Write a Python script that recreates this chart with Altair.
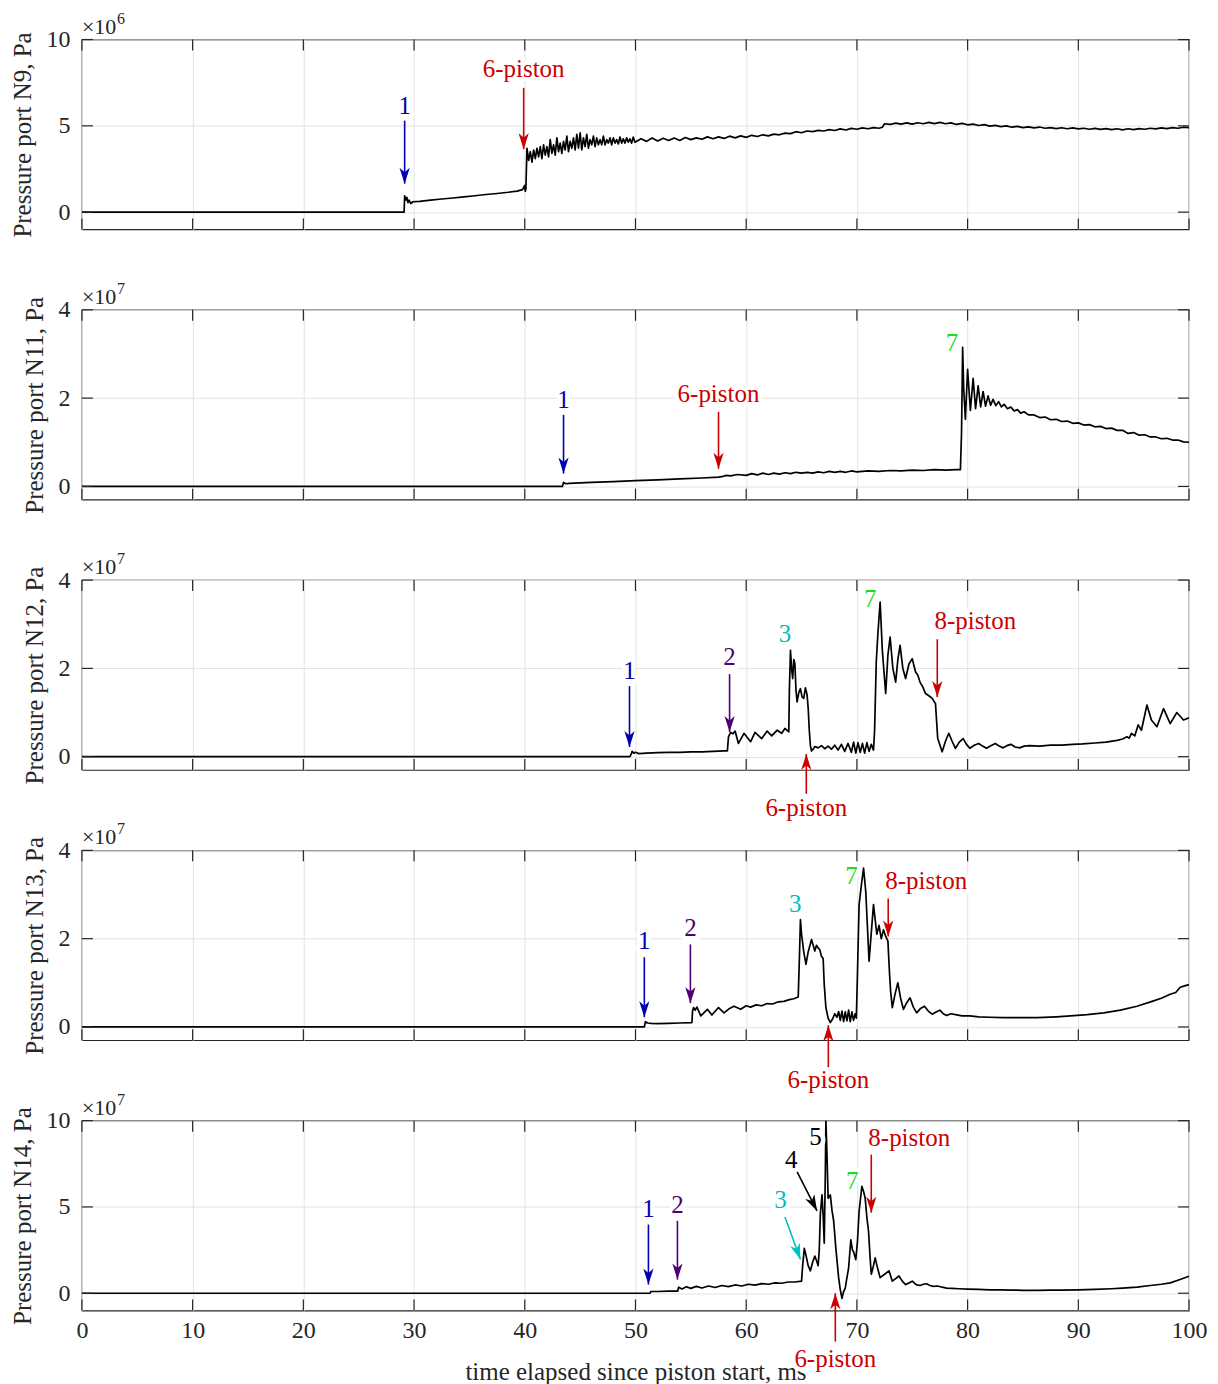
import math
import altair as alt
import pandas as pd

FONT = "Liberation Serif"
FRAME = "#262626"
W, H = 1108, 190
TICK = 11
X_DOMAIN = [0, 100]
X_TICKS = [0, 10, 20, 30, 40, 50, 60, 70, 80, 90, 100]

BLUE = "#0000b3"
RED = "#cc0000"
PURPLE = "#4c0073"
CYAN = "#00bfbf"
GREEN = "#1fdc1f"
BLACK = "#000000"

# ---------------------------------------------------------------- pressure traces
# (time in ms, pressure in units of the panel exponent)
n9 = [(0, 0), (29.1, 0), (29.15, 0.95), (29.25, 0.7), (29.35, 0.85), (29.45, 0.55), (29.55, 0.7),
      (29.7, 0.5), (29.9, 0.6), (30.5, 0.62), (31.5, 0.7), (32.5, 0.76), (33.5, 0.82), (34.5, 0.88),
      (35.5, 0.95), (36.5, 1.02), (37.5, 1.08), (38.5, 1.15), (39.3, 1.22), (39.8, 1.3), (40.0, 1.55),
      (40.05, 1.2), (40.1, 1.35),
      (40.20, 3.7), (40.35, 3.0), (40.50, 3.5), (40.65, 2.9), (40.80, 3.6), (40.95, 3.1), (41.10, 3.7),
      (41.25, 3.2), (41.40, 3.8), (41.55, 3.1), (41.70, 3.9), (41.85, 3.3), (42.00, 3.8), (42.15, 3.2),
      (42.30, 4.2), (42.45, 3.4), (42.60, 3.9), (42.75, 3.3), (42.90, 4.3), (43.05, 3.5), (43.20, 4.0),
      (43.35, 3.4), (43.50, 4.1), (43.65, 3.6), (43.80, 4.4), (43.95, 3.5), (44.10, 4.1), (44.25, 3.7),
      (44.40, 4.3), (44.55, 3.6), (44.70, 4.5), (44.85, 3.7), (45.00, 4.6), (45.15, 3.6), (45.30, 4.3),
      (45.45, 3.8), (45.60, 4.5), (45.75, 3.7), (45.90, 4.2), (46.05, 3.9), (46.20, 4.4), (46.35, 3.8),
      (46.50, 4.3), (46.65, 3.9), (46.80, 4.2), (46.95, 3.9), (47.10, 4.4), (47.25, 3.9), (47.40, 4.2),
      (47.55, 4.0), (47.70, 4.3), (47.85, 3.9), (48.00, 4.3), (48.15, 4.0), (48.30, 4.2), (48.45, 3.95),
      (48.60, 4.35), (48.75, 4.0), (48.90, 4.25), (49.05, 4.0), (49.20, 4.3), (49.35, 4.05),
      (49.50, 4.25), (49.65, 4.0), (49.80, 4.35), (49.95, 4.05),
      (50.5, 4.25), (51, 4.1), (51.5, 4.3), (52, 4.12), (52.5, 4.28), (53, 4.15), (53.5, 4.3),
      (54, 4.15), (54.5, 4.32), (55, 4.2), (55.5, 4.3), (56, 4.22), (56.5, 4.36), (57, 4.25),
      (57.5, 4.36), (58, 4.27), (58.5, 4.4), (59, 4.3), (59.5, 4.42), (60, 4.33), (60.5, 4.45),
      (61, 4.38), (61.5, 4.48), (62, 4.42), (62.5, 4.52), (63, 4.48), (63.5, 4.58), (64, 4.55),
      (64.5, 4.66), (65, 4.6), (65.5, 4.7), (66, 4.66), (66.5, 4.74), (67, 4.7), (67.5, 4.78),
      (68, 4.73), (68.5, 4.82), (69, 4.76), (69.5, 4.85), (70, 4.8), (70.5, 4.88), (71, 4.83),
      (71.5, 4.9), (72, 4.86), (72.3, 4.92), (72.5, 5.12), (73, 5.08), (73.5, 5.16), (74, 5.1),
      (74.5, 5.17), (75, 5.1), (75.5, 5.18), (76, 5.12), (76.5, 5.2), (77, 5.13), (77.5, 5.2),
      (78, 5.12), (78.5, 5.17), (79, 5.08), (79.5, 5.14), (80, 5.06), (80.5, 5.1), (81, 5.02),
      (81.5, 5.07), (82, 4.98), (82.5, 5.03), (83, 4.95), (83.5, 5.0), (84, 4.92), (84.5, 4.97),
      (85, 4.9), (85.5, 4.94), (86, 4.88), (86.5, 4.93), (87, 4.86), (87.5, 4.9), (88, 4.84),
      (88.5, 4.89), (89, 4.83), (89.5, 4.88), (90, 4.82), (90.5, 4.86), (91, 4.8), (91.5, 4.85),
      (92, 4.79), (92.5, 4.84), (93, 4.78), (93.5, 4.83), (94, 4.77), (94.5, 4.83), (95, 4.78),
      (95.5, 4.84), (96, 4.8), (96.5, 4.86), (97, 4.82), (97.5, 4.88), (98, 4.84), (98.5, 4.9),
      (99, 4.86), (99.5, 4.92), (100, 4.9)]

n11 = [(0, 0), (43.4, 0), (43.5, 0.09), (43.7, 0.06), (44, 0.07), (46, 0.09), (48, 0.11), (50, 0.13),
       (52, 0.15), (54, 0.17), (56, 0.19), (57.5, 0.21), (57.8, 0.22), (58.2, 0.25), (58.6, 0.24),
       (59.2, 0.27), (60, 0.25), (60.5, 0.29), (61, 0.26), (61.5, 0.3), (62, 0.27), (62.5, 0.3),
       (63, 0.28), (63.5, 0.31), (64, 0.29), (64.5, 0.32), (65, 0.3), (65.5, 0.32), (66, 0.3),
       (66.5, 0.33), (67, 0.31), (67.5, 0.34), (68, 0.32), (68.5, 0.34), (69, 0.32), (69.5, 0.35),
       (70, 0.33), (71, 0.35), (72, 0.34), (73, 0.36), (74, 0.35), (75, 0.37), (76, 0.36), (77, 0.38),
       (78, 0.37), (79, 0.38), (79.35, 0.38), (79.45, 1.2), (79.55, 3.15), (79.65, 2.2), (79.8, 1.52),
       (80.0, 2.65), (80.25, 1.72), (80.5, 2.45), (80.72, 1.76), (80.95, 2.28), (81.18, 1.8),
       (81.4, 2.15), (81.62, 1.82), (81.85, 2.05), (82.08, 1.84), (82.3, 1.97), (82.55, 1.83),
       (82.8, 1.92), (83.05, 1.8), (83.3, 1.86), (83.6, 1.76), (83.9, 1.8), (84.2, 1.71), (84.5, 1.74),
       (84.8, 1.66), (85.1, 1.69), (85.5, 1.62), (86, 1.62), (86.5, 1.56), (87, 1.57), (87.5, 1.51),
       (88, 1.52), (88.5, 1.47), (89, 1.48), (89.5, 1.43), (90, 1.44), (90.5, 1.39), (91, 1.4),
       (91.5, 1.35), (92, 1.36), (92.5, 1.31), (93, 1.32), (93.5, 1.27), (94, 1.27), (94.5, 1.2),
       (95, 1.22), (95.5, 1.16), (96, 1.17), (96.5, 1.12), (97, 1.12), (97.5, 1.08), (98, 1.09),
       (98.5, 1.05), (99, 1.05), (99.5, 1.01), (100, 1.0)]

n12 = [(0, 0), (49.5, 0), (49.6, 0.05), (49.7, 0.12), (49.85, 0.08), (50, 0.1), (50.3, 0.07), (51, 0.08),
       (52, 0.09), (53, 0.1), (54, 0.1), (55, 0.11), (56, 0.11), (57, 0.12), (58, 0.13), (58.3, 0.13),
       (58.4, 0.45), (58.6, 0.55), (58.8, 0.52), (59.0, 0.58), (59.3, 0.3), (59.8, 0.53), (60.4, 0.34),
       (60.8, 0.55), (61.4, 0.41), (61.9, 0.58), (62.3, 0.47), (62.8, 0.6), (63.2, 0.53), (63.5, 0.64),
       (63.85, 0.56), (63.9, 1.5), (64.0, 2.41), (64.1, 2.0), (64.2, 1.77), (64.3, 2.2), (64.4, 2.1),
       (64.5, 1.5), (64.6, 1.24), (64.75, 1.45), (64.9, 1.54), (65.05, 1.35), (65.2, 1.32),
       (65.35, 1.56), (65.5, 1.4), (65.6, 1.1), (65.7, 0.6), (65.8, 0.25), (65.9, 0.13), (66.05, 0.17),
       (66.2, 0.23), (66.5, 0.2), (66.8, 0.25), (67.1, 0.18), (67.4, 0.24), (67.7, 0.17), (68.0, 0.26),
       (68.3, 0.15), (68.6, 0.28), (68.9, 0.12), (69.2, 0.3), (69.5, 0.1), (69.7, 0.33), (69.9, 0.08),
       (70.1, 0.32), (70.3, 0.1), (70.5, 0.3), (70.7, 0.08), (70.9, 0.32), (71.1, 0.12), (71.3, 0.28),
       (71.5, 0.15), (71.6, 0.6), (71.75, 2.15), (71.9, 2.8), (72.1, 3.5), (72.3, 2.4), (72.6, 1.43),
       (72.8, 2.3), (73.0, 2.71), (73.25, 2.0), (73.5, 1.69), (73.7, 2.2), (73.9, 2.52), (74.15, 2.0),
       (74.4, 1.77), (74.7, 2.1), (75.0, 2.22), (75.3, 1.92), (75.5, 1.85), (75.7, 1.69), (75.95, 1.58),
       (76.2, 1.43), (76.5, 1.38), (76.8, 1.32), (77.1, 1.2), (77.3, 0.41), (77.7, 0.11), (78.0, 0.35),
       (78.3, 0.53), (78.6, 0.35), (78.9, 0.19), (79.25, 0.33), (79.6, 0.41), (79.9, 0.28), (80.2, 0.19),
       (80.6, 0.26), (81.0, 0.3), (81.35, 0.24), (81.7, 0.19), (82.1, 0.25), (82.5, 0.3), (82.85, 0.24),
       (83.2, 0.2), (83.55, 0.25), (83.9, 0.28), (84.3, 0.22), (84.7, 0.2), (85.1, 0.24), (85.6, 0.25),
       (86.5, 0.24), (87.5, 0.26), (88.5, 0.26), (89.5, 0.28), (90.4, 0.29), (91.5, 0.31), (92.5, 0.33),
       (93.5, 0.37), (94.0, 0.4), (94.4, 0.45), (94.6, 0.42), (94.8, 0.53), (95.1, 0.47), (95.4, 0.72),
       (95.7, 0.6), (96.2, 1.17), (96.6, 0.83), (97.1, 0.68), (97.7, 1.09), (98.3, 0.75), (98.9, 1.0),
       (99.5, 0.83), (100, 0.88)]

n13 = [(0, 0), (50.8, 0), (50.9, 0.12), (51.1, 0.09), (51.4, 0.08), (52, 0.075), (53, 0.08), (54, 0.09),
       (55.1, 0.1), (55.15, 0.35), (55.25, 0.44), (55.4, 0.38), (55.55, 0.45), (55.9, 0.25), (56.5, 0.4),
       (56.9, 0.27), (57.5, 0.44), (58.0, 0.32), (58.5, 0.42), (58.9, 0.47), (59.5, 0.4), (60.0, 0.48),
       (60.4, 0.45), (60.9, 0.5), (61.4, 0.48), (61.9, 0.53), (62.4, 0.52), (62.9, 0.57), (63.4, 0.58),
       (63.9, 0.62), (64.3, 0.64), (64.7, 0.68), (64.8, 1.5), (64.9, 2.43), (65.0, 2.1), (65.2, 1.7),
       (65.4, 1.42), (65.6, 1.7), (65.9, 1.98), (66.05, 1.85), (66.2, 1.72), (66.35, 1.85), (66.5, 1.79),
       (66.65, 1.75), (66.8, 1.6), (66.95, 1.55), (67.05, 0.96), (67.2, 0.44), (67.4, 0.2), (67.6, 0.1),
       (67.8, 0.18), (68.0, 0.3), (68.2, 0.22), (68.35, 0.35), (68.5, 0.15), (68.65, 0.36), (68.8, 0.12),
       (68.95, 0.34), (69.1, 0.14), (69.25, 0.38), (69.4, 0.12), (69.55, 0.34), (69.7, 0.15), (69.85, 0.3),
       (69.95, 0.2), (70.05, 1.2), (70.2, 2.77), (70.4, 3.2), (70.6, 3.6), (70.8, 3.07), (71.1, 1.49),
       (71.5, 2.77), (71.8, 2.1), (72.0, 2.3), (72.2, 2.0), (72.4, 2.2), (72.6, 2.05), (72.8, 1.95),
       (72.95, 1.2), (73.05, 0.8), (73.2, 0.44), (73.45, 0.75), (73.7, 1.0), (73.95, 0.65), (74.2, 0.4),
       (74.5, 0.55), (74.8, 0.66), (75.1, 0.45), (75.4, 0.32), (75.75, 0.42), (76.1, 0.47), (76.45, 0.36),
       (76.8, 0.29), (77.15, 0.34), (77.5, 0.38), (77.8, 0.3), (78.1, 0.26), (78.5, 0.3), (78.9, 0.28),
       (79.5, 0.25), (80.2, 0.25), (81, 0.23), (82, 0.22), (83.2, 0.21), (84.5, 0.21), (86.3, 0.21),
       (88, 0.23), (89.3, 0.25), (90.8, 0.28), (92.3, 0.32), (93.8, 0.38), (95.3, 0.47), (96.8, 0.59),
       (97.5, 0.65), (98.3, 0.74), (98.8, 0.78), (99.2, 0.9), (99.6, 0.93), (100, 0.96)]

n14 = [(0, 0), (51.3, 0), (51.4, 0.1), (52, 0.1), (53, 0.12), (53.8, 0.12), (53.9, 0.35), (54.2, 0.25),
       (54.6, 0.38), (55.0, 0.28), (55.5, 0.4), (56.0, 0.3), (56.6, 0.42), (57.2, 0.33), (57.8, 0.45),
       (58.4, 0.38), (59.0, 0.48), (59.6, 0.42), (60.2, 0.52), (60.8, 0.47), (61.4, 0.56), (62.0, 0.52),
       (62.6, 0.6), (63.2, 0.58), (63.8, 0.65), (64.4, 0.65), (65.0, 0.7), (65.1, 1.6), (65.25, 2.6),
       (65.4, 2.2), (65.6, 1.6), (65.8, 1.3), (66.0, 1.8), (66.2, 2.15), (66.35, 1.9), (66.5, 1.6),
       (66.6, 2.5), (66.7, 4.6), (66.85, 5.7), (66.95, 4.5), (67.05, 2.9), (67.15, 7.0), (67.2, 10.0),
       (67.3, 8.0), (67.4, 5.5), (67.6, 5.7), (67.75, 4.8), (67.9, 4.2), (68.1, 2.6), (68.35, 0.9),
       (68.5, 0.2), (68.65, -0.3), (68.8, 0.1), (68.95, 0.3), (69.1, 0.9), (69.25, 1.45), (69.45, 3.1),
       (69.6, 2.5), (69.7, 2.4), (69.9, 1.95), (70.05, 3.0), (70.2, 4.75), (70.45, 6.2), (70.6, 5.9),
       (70.75, 5.5), (70.9, 4.4), (71.05, 3.6), (71.2, 2.0), (71.3, 1.1), (71.5, 1.6), (71.65, 2.05),
       (71.85, 1.5), (72.1, 0.9), (72.5, 1.1), (72.9, 1.3), (73.2, 0.7), (73.5, 0.85), (73.8, 1.0),
       (74.1, 0.7), (74.4, 0.5), (74.7, 0.6), (75.0, 0.7), (75.35, 0.5), (75.7, 0.45), (76.0, 0.52),
       (76.3, 0.55), (76.6, 0.45), (76.9, 0.4), (77.3, 0.42), (77.7, 0.35), (78.1, 0.3), (78.6, 0.28),
       (79.2, 0.26), (80, 0.24), (81, 0.22), (82, 0.2), (83, 0.19), (84, 0.18), (85, 0.17), (86.3, 0.17),
       (87.5, 0.18), (88.5, 0.18), (90, 0.2), (91.5, 0.22), (93, 0.26), (94, 0.3), (95.3, 0.35),
       (96.5, 0.45), (97.5, 0.52), (98.3, 0.6), (99, 0.75), (100, 0.98)]

# ---------------------------------------------------------------- event labels
# (label, colour, text x, text y, arrow start x, arrow start y, arrow tip x, arrow tip y)
n9_notes = [("1", BLUE, 29.15, 6.13, 29.15, 5.3, 29.15, 1.65),
            ("6-piston", RED, 39.9, 8.32, 39.9, 7.2, 39.9, 3.65)]
n11_notes = [("1", BLUE, 43.5, 1.96, 43.5, 1.62, 43.5, 0.29),
             ("6-piston", RED, 57.5, 2.1, 57.5, 1.69, 57.5, 0.4),
             ("7", GREEN, 78.6, 3.25, None, None, None, None)]
n12_notes = [("1", BLUE, 49.46, 1.94, 49.46, 1.6, 49.46, 0.22),
             ("2", PURPLE, 58.5, 2.25, 58.5, 1.87, 58.5, 0.56),
             ("3", CYAN, 63.5, 2.78, None, None, None, None),
             ("7", GREEN, 71.2, 3.57, None, None, None, None),
             ("8-piston", RED, 80.7, 3.07, 77.26, 2.66, 77.26, 1.35),
             ("6-piston", RED, 65.43, -1.16, 65.43, -0.84, 65.43, 0.06)]
n13_notes = [("1", BLUE, 50.8, 1.94, 50.8, 1.58, 50.8, 0.22),
             ("2", PURPLE, 54.96, 2.24, 54.96, 1.87, 54.96, 0.54),
             ("3", CYAN, 64.44, 2.78, None, None, None, None),
             ("7", GREEN, 69.5, 3.41, None, None, None, None),
             ("8-piston", RED, 76.26, 3.3, 72.83, 2.91, 72.83, 2.05),
             ("6-piston", RED, 67.42, -1.19, 67.42, -0.91, 67.42, 0.04)]
n14_notes = [("1", BLUE, 51.17, 4.9, 51.17, 3.98, 51.17, 0.5),
             ("2", PURPLE, 53.79, 5.13, 53.79, 4.2, 53.79, 0.79),
             ("3", CYAN, 63.09, 5.41, 63.5, 4.42, 64.9, 1.95),
             ("4", BLACK, 64.08, 7.73, 64.6, 7.03, 66.4, 4.77),
             ("5", BLACK, 66.25, 9.07, None, None, None, None),
             ("7", GREEN, 69.58, 6.5, None, None, None, None),
             ("8-piston", RED, 74.73, 9.0, 71.3, 8.03, 71.3, 4.67),
             ("6-piston", RED, 68.05, -3.8, 68.05, -2.8, 68.05, 0.0)]

PANELS = [
    dict(title="Pressure port N9, Pa", data=n9, domain=[-1, 10], ticks=[0, 5, 10], exp="6", notes=n9_notes),
    dict(title="Pressure port N11, Pa", data=n11, domain=[-0.3, 4], ticks=[0, 2, 4], exp="7", notes=n11_notes),
    dict(title="Pressure port N12, Pa", data=n12, domain=[-0.3, 4], ticks=[0, 2, 4], exp="7", notes=n12_notes),
    dict(title="Pressure port N13, Pa", data=n13, domain=[-0.3, 4], ticks=[0, 2, 4], exp="7", notes=n13_notes),
    dict(title="Pressure port N14, Pa", data=n14, domain=[-1, 10], ticks=[0, 5, 10], exp="7", notes=n14_notes),
]

# arrow head: tip at the origin, pointing down before rotation
ARROW_HEAD = "M0,0 L-0.32,-1 L0,-0.72 L0.32,-1 Z"

AXIS_TEXT = dict(labelFont=FONT, labelFontSize=24, labelColor=FRAME,
                 titleFont=FONT, titleFontSize=25, titleFontWeight="normal", titleColor=FRAME,
                 gridColor="#e3e3e3", gridWidth=1)


def make_panel(spec, last):
    xs = alt.Scale(domain=X_DOMAIN, nice=False, zero=False)
    ys = alt.Scale(domain=spec["domain"], nice=False, zero=False)
    x_axis = alt.Axis(values=X_TICKS, grid=True, ticks=False, domain=False, labels=last,
                      title="time elapsed since piston start, ms" if last else None,
                      labelPadding=8, titlePadding=17, labelFlush=False, **AXIS_TEXT)
    y_axis = alt.Axis(values=spec["ticks"], grid=True, ticks=False, domain=False,
                      title=spec["title"], labelPadding=12, titlePadding=10, **AXIS_TEXT)

    def X(field):
        return alt.X(field, scale=xs, axis=x_axis)

    def Y(field):
        return alt.Y(field, scale=ys, axis=y_axis)

    trace = pd.DataFrame(spec["data"], columns=["t", "p"])
    line = alt.Chart(trace).mark_line(color="black", strokeWidth=1.7, clip=True,
                                      strokeJoin="round").encode(x=X("t:Q"), y=Y("p:Q"))

    # inward ticks on all four sides of the box
    xt = alt.Chart(pd.DataFrame({"v": X_TICKS}))
    yt = alt.Chart(pd.DataFrame({"v": spec["ticks"]}))
    tick_top = xt.mark_rule(color=FRAME, strokeWidth=1.2).encode(
        x=X("v:Q"), y=alt.value(0), y2=alt.value(TICK))
    tick_bottom = xt.mark_rule(color=FRAME, strokeWidth=1.2).encode(
        x=X("v:Q"), y=alt.value(H - TICK), y2=alt.value(H))
    tick_left = yt.mark_rule(color=FRAME, strokeWidth=1.2).encode(
        y=Y("v:Q"), x=alt.value(0), x2=alt.value(TICK))
    tick_right = yt.mark_rule(color=FRAME, strokeWidth=1.2).encode(
        y=Y("v:Q"), x=alt.value(W - TICK), x2=alt.value(W))

    # axis exponent
    exp_df = pd.DataFrame({"x": [X_DOMAIN[0]], "y": [spec["domain"][1]],
                           "base": ["\u00d710"], "sup": [spec["exp"]]})
    exp_base = alt.Chart(exp_df).mark_text(align="left", baseline="alphabetic", dy=-6,
                                           font=FONT, fontSize=22, color=FRAME).encode(
        x=X("x:Q"), y=Y("y:Q"), text="base:N")
    exp_sup = alt.Chart(exp_df).mark_text(align="left", baseline="alphabetic", dx=35, dy=-16,
                                          font=FONT, fontSize=16, color=FRAME).encode(
        x=X("x:Q"), y=Y("y:Q"), text="sup:N")

    # event labels and arrows
    notes = pd.DataFrame(spec["notes"], columns=["label", "color", "tx", "ty", "x0", "y0", "x1", "y1"])
    sx = W / (X_DOMAIN[1] - X_DOMAIN[0])
    sy = H / (spec["domain"][1] - spec["domain"][0])
    arrows = notes.dropna().copy()
    arrows["angle"] = [
        math.degrees(math.atan2(-(r.x1 - r.x0) * sx, -(r.y1 - r.y0) * sy)) % 360
        for r in arrows.itertuples()
    ]

    halo = alt.Chart(notes).mark_text(font=FONT, fontSize=25, fill="white", stroke="white",
                                      strokeWidth=9, strokeJoin="round").encode(
        x=X("tx:Q"), y=Y("ty:Q"), text="label:N")
    label = alt.Chart(notes).mark_text(font=FONT, fontSize=25).encode(
        x=X("tx:Q"), y=Y("ty:Q"), text="label:N", color=alt.Color("color:N", scale=None))
    shaft = alt.Chart(arrows).mark_rule(strokeWidth=1.6).encode(
        x=X("x0:Q"), y=Y("y0:Q"), x2="x1:Q", y2="y1:Q", color=alt.Color("color:N", scale=None))
    head = alt.Chart(arrows).mark_point(shape=ARROW_HEAD, size=1024, filled=True, opacity=1,
                                        strokeWidth=0).encode(
        x=X("x1:Q"), y=Y("y1:Q"),
        angle=alt.Angle("angle:Q", scale=None), color=alt.Color("color:N", scale=None))

    layers = [line, halo, tick_top, tick_bottom, tick_left, tick_right, shaft, head, label,
              exp_base, exp_sup]
    return alt.layer(*layers).properties(width=W, height=H)


charts = [make_panel(s, i == len(PANELS) - 1) for i, s in enumerate(PANELS)]

chart = alt.vconcat(*charts, spacing=80.5, bounds="flush").properties(
    padding={"left": 10, "top": 9, "right": 10, "bottom": 2}
).configure_view(
    stroke=FRAME, strokeWidth=1.2
).configure_axis(**AXIS_TEXT)

chart.save("out.html", embed_options={"renderer": "svg", "actions": False})
